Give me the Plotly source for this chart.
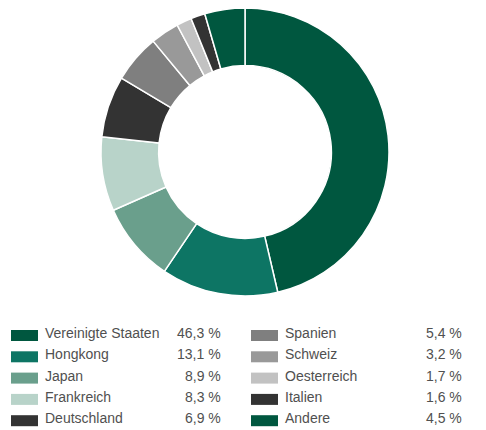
import plotly.graph_objects as go

countries = ["Vereinigte Staaten", "Hongkong", "Japan", "Frankreich", "Deutschland",
             "Spanien", "Schweiz", "Oesterreich", "Italien", "Andere"]
shares = [46.3, 13.1, 8.9, 8.3, 6.9, 5.4, 3.2, 1.7, 1.6, 4.5]
colors = ["#00573F", "#0D7564", "#6A9F8C", "#B8D3C9", "#333333",
          "#7F7F7F", "#999999", "#C2C2C2", "#333333", "#00573F"]

# page body has an 8px default margin; figure coordinates = window coords - 8
OFF = 8
W, H = 486 - OFF, 430 - OFF
cx, cy, r = 245 - OFF, 152 - OFF, 144


def px(x):
    return (x - OFF) / W


def py(y):
    return 1 - (y - OFF) / H


fig = go.Figure(go.Pie(
    labels=countries, values=shares, sort=False, direction="clockwise", rotation=0,
    hole=0.6, textinfo="none", hoverinfo="label+percent",
    marker=dict(colors=colors, line=dict(color="white", width=1.5)),
    domain=dict(x=[(cx - r) / W, (cx + r) / W],
                y=[max(0, 1 - (cy + r) / H), min(1, 1 - (cy - r) / H)]),
    showlegend=False,
))

shapes, annotations = [], []
font = dict(family="Liberation Sans, Arial, sans-serif", size=14, color="#505050")
col_sq = [(11, 38), (251, 278)]
col_lab = [43, 283]
col_val = [223, 464]
row_y = [333, 354.3, 375.6, 396.9, 418.2]
for i, (name, v) in enumerate(zip(countries, shares)):
    c, rw = divmod(i, 5)
    y = row_y[rw]
    x0, x1 = col_sq[c]
    shapes.append(dict(type="rect", xref="paper", yref="paper",
                       x0=px(x0), x1=px(x1), y0=py(y + 8), y1=py(y - 3),
                       fillcolor=colors[i], line=dict(width=0)))
    annotations.append(dict(x=px(col_lab[c]), y=py(y), xref="paper", yref="paper",
                            text=name, showarrow=False, xanchor="left", yanchor="middle",
                            font=font))
    annotations.append(dict(x=px(col_val[c]), y=py(y), xref="paper", yref="paper",
                            text=f"{v:.1f}".replace(".", ",") + " %", showarrow=False,
                            xanchor="right", yanchor="middle", font=font))

fig.update_layout(width=W, height=H, margin=dict(l=0, r=0, t=0, b=0),
                  paper_bgcolor="white", plot_bgcolor="white",
                  shapes=shapes, annotations=annotations)
fig.write_html("out.html")
